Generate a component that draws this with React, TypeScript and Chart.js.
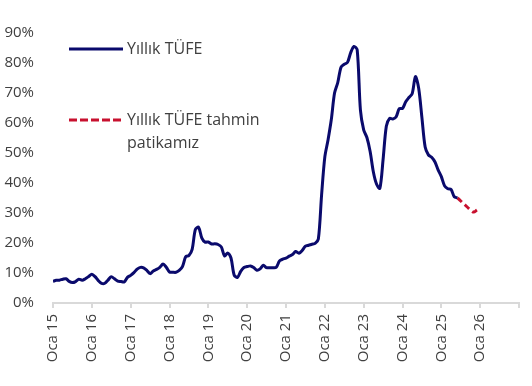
import React, { useEffect, useRef } from 'react';
import { Chart, registerables } from 'chart.js';

Chart.register(...registerables);

// Annual CPI (%), monthly, Jan 2015 - Jun 2025
const actualValues: number[] = [
  7.24, 7.55, 7.61, 7.91, 8.09, 7.2, 6.81, 7.14, 7.95, 7.58, 8.1, 8.81,
  9.58, 8.78, 7.46, 6.57, 6.58, 7.64, 8.79, 8.05, 7.28, 7.16, 7.0, 8.53,
  9.22, 10.13, 11.29, 11.87, 11.72, 10.9, 9.79, 10.68, 11.2, 11.9, 12.98, 11.92,
  10.35, 10.26, 10.23, 10.85, 12.15, 15.39, 15.85, 17.9, 24.52, 25.24, 21.62, 20.3,
  20.35, 19.67, 19.71, 19.5, 18.71, 15.72, 16.65, 15.01, 9.26, 8.55, 10.56, 11.84,
  12.15, 12.37, 11.86, 10.94, 11.39, 12.62, 11.76, 11.77, 11.75, 11.89, 14.03, 14.6,
  14.97, 15.61, 16.19, 17.14, 16.59, 17.53, 18.95, 19.25, 19.58, 19.89, 21.31, 36.08,
  48.69, 54.44, 61.14, 69.97, 73.5, 78.62, 79.6, 80.21, 83.45, 85.51, 84.39, 64.27,
  57.68, 55.18, 50.51, 43.68, 39.59, 38.21, 47.83, 58.94, 61.53, 61.36, 61.98, 64.77,
  64.86, 67.07, 68.5, 69.8, 75.45, 71.6, 61.78, 51.97, 49.38, 48.58, 47.09, 44.38,
  42.12, 39.05, 38.1, 37.86, 35.41, 35.05,
];

// Forecast path, Jun 2025 - Dec 2025
const forecastValues: number[] = [35.05, 34.0, 33.0, 32.0, 31.0, 30.3, 31.0];

const yearLabels: string[] = ['15', '16', '17', '18', '19', '20', '21', '22', '23', '24', '25', '26'];
const yTicks: number[] = [0, 10, 20, 30, 40, 50, 60, 70, 80, 90];

const seriesNames: string[] = ['Yıllık TÜFE', 'Yıllık TÜFE tahmin', 'patikamız'];

const BLUE = '#0A0A6C';
const RED = '#C8102E';
const TEXT = '#404040';
const FONT = "'Open Sans', sans-serif";

export default function App() {
  const ref = useRef<HTMLCanvasElement | null>(null);

  useEffect(() => {
    if (!ref.current) return;
    const actualData = actualValues.map((v, i) => ({ x: i, y: v }));
    const fStart = actualValues.length - 1;
    const forecastData = forecastValues.map((v, i) => ({ x: fStart + i, y: v }));
    const totalMonths = yearLabels.length * 12;

    const legendPlugin = {
      id: 'customLegend',
      afterDraw(chart: any) {
        const ctx = chart.ctx;
        ctx.save();
        ctx.lineWidth = 3;
        ctx.strokeStyle = BLUE;
        ctx.setLineDash([]);
        ctx.beginPath();
        ctx.moveTo(69, 49);
        ctx.lineTo(123, 49);
        ctx.stroke();
        ctx.strokeStyle = RED;
        ctx.setLineDash([8, 3]);
        ctx.beginPath();
        ctx.moveTo(69, 120);
        ctx.lineTo(123, 120);
        ctx.stroke();
        ctx.setLineDash([]);
        ctx.fillStyle = TEXT;
        ctx.font = `16px ${FONT}`;
        ctx.textBaseline = 'middle';
        ctx.textAlign = 'left';
        ctx.fillText(seriesNames[0], 127, 49);
        ctx.fillText(seriesNames[1], 127, 120);
        ctx.fillText(seriesNames[2], 127, 143);
        ctx.restore();
      },
    };

    const chart = new Chart(ref.current, {
      type: 'line',
      data: {
        datasets: [
          {
            label: seriesNames[0],
            data: actualData,
            borderColor: BLUE,
            borderWidth: 3,
            pointRadius: 0,
            tension: 0.3,
            fill: false,
            borderJoinStyle: 'round',
          },
          {
            label: seriesNames[1] + ' ' + seriesNames[2],
            data: forecastData,
            borderColor: RED,
            borderWidth: 3,
            borderDash: [6, 4],
            pointRadius: 0,
            tension: 0.3,
            fill: false,
          },
        ],
      },
      options: {
        animation: false,
        responsive: false,
        maintainAspectRatio: false,
        layout: { padding: { left: 0, right: 13, top: 33, bottom: 0 } },
        plugins: {
          legend: { display: false },
          tooltip: { enabled: false },
        },
        scales: {
          x: {
            type: 'linear',
            min: 0,
            max: totalMonths,
            afterBuildTicks: (scale: any) => {
              const t = [];
              for (let i = 0; i <= yearLabels.length; i++) t.push({ value: i * 12 });
              scale.ticks = t;
            },
            afterFit: (scale: any) => {
              scale.height = 83;
              scale.paddingLeft = 0;
              scale.paddingRight = 0;
            },
            ticks: {
              autoSkip: false,
              maxRotation: 90,
              minRotation: 90,
              padding: 6,
              color: TEXT,
              font: { family: FONT, size: 15 },
              callback: (v: any) => {
                const idx = Math.round(Number(v) / 12);
                return idx < yearLabels.length ? `Oca ${yearLabels[idx]}` : '';
              },
            },
            grid: {
              display: true,
              drawOnChartArea: false,
              drawTicks: true,
              tickLength: 5,
              color: '#D9D9D9',
              lineWidth: 2,
            },
            border: { display: true, color: '#D9D9D9', width: 2 },
          },
          y: {
            min: 0,
            max: 90,
            afterBuildTicks: (scale: any) => {
              scale.ticks = yTicks.map((v) => ({ value: v }));
            },
            afterFit: (scale: any) => {
              scale.width = 53;
              scale.paddingTop = 0;
              scale.paddingBottom = 0;
            },
            ticks: {
              padding: 19,
              color: TEXT,
              font: { family: FONT, size: 15 },
              callback: (v: any) => `${v}%`,
            },
            grid: { display: false, drawTicks: false },
            border: { display: false },
          },
        },
      },
      plugins: [legendPlugin],
    });

    return () => chart.destroy();
  }, []);

  return (
    <div style={{ position: 'fixed', left: 0, top: 0, width: 532, height: 386, background: '#fff' }}>
      <canvas ref={ref} width={532} height={386} style={{ width: 532, height: 386 }} />
    </div>
  );
}
